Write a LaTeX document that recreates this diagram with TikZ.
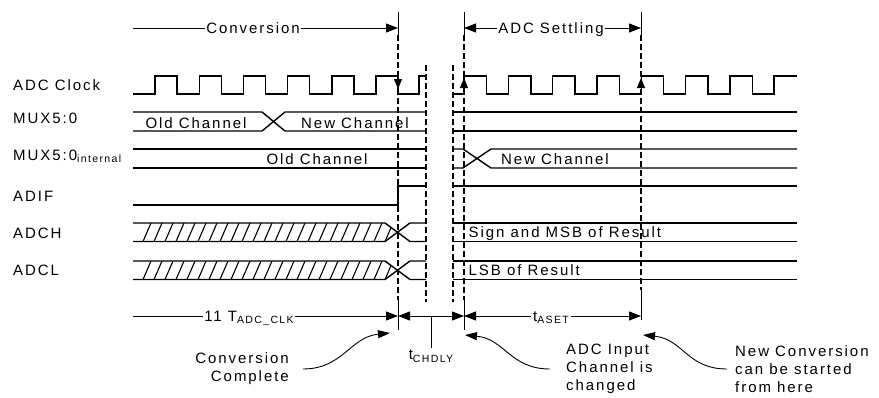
\documentclass[tikz,border=0pt]{standalone}
\usepackage{fontspec}
\setmainfont{Liberation Sans}[LetterSpace=13]
\usetikzlibrary{arrows.meta,positioning}
\newcommand{\lowsub}[1]{\raisebox{-2.5pt}{\fontsize{10.5}{10.5}\selectfont #1}}

\begin{document}
\begin{tikzpicture}[x=1pt,y=-1pt,>={Triangle[length=12pt,width=9pt]},
 every node/.style={font=\fontsize{15}{18}\selectfont,inner sep=0pt},
 sig/.style={line width=1.4pt},
 dim/.style={line width=1pt},
 tline/.style={line width=1.1pt,dash pattern=on 6pt off 3pt},
 hatch/.style={line width=1.1pt},
 onl/.style={text height=10.5pt,text depth=0pt,inner xsep=1.5pt},
 lbl/.style={anchor=base west},
 clkarr/.style={line width=1pt,-{Triangle[length=10pt,width=8pt]}},
 callout/.style={line width=0.9pt,-{Triangle[length=12pt,width=8pt]}}]
\useasboundingbox (0,0) rectangle (879,397);

% signal names
\node[lbl] (nclk) at (13,90) {ADC Clock};
\node[lbl] (nmux) at (13,123) {MUX5:0};
\node[lbl] (nmuxi) at (13,160) {MUX5:0\lowsub{internal}};
\node[lbl] (nadif) at (13,201) {ADIF};
\node[lbl] (nadch) at (13,238) {ADCH};
\node[lbl] (nadcl) at (13,275) {ADCL};

% clock, before and after the break
\draw[sig] (133,94) \foreach \k in {0,...,5}{ -- ({155+44.2*\k},94) -- ++(0,-18) -- ++(22,0) -- ++(0,18)} -- (419,94) -- (419,76) -- (426,76);
\draw[sig] (453,94) \foreach \k in {0,...,6}{ -- ({464+44.3*\k},94) -- ++(0,-18) -- ++(22.5,0) -- ++(0,18)} -- (774,94) -- (774,76) -- (797,76);
\draw[clkarr] (398,77) -- (398,89);
\draw[clkarr] (464,94) -- (464,78); \draw[clkarr] (641,94) -- (641,78);

% MUX5:0
\draw[sig] (133,112) -- (262,112) -- (285,131) -- (426,131) (133,131) -- (262,131) -- (285,112) -- (426,112);
\draw[sig] (453,112) -- (797,112) (453,131) -- (797,131);
\node[onl] (oldm) at (196,123) {Old Channel};
\node[onl] (newm) at (355,123) {New Channel};

% MUX5:0 internal
\draw[sig] (133,149) -- (426,149) (133,168) -- (426,168);
\draw[sig] (453,149) -- (463,149) -- (491,168) -- (797,168) (453,168) -- (463,168) -- (491,149) -- (797,149);
\node[onl] (oldi) at (317,159) {Old Channel};
\node[onl] (newi) at (555,159) {New Channel};

% ADIF
\draw[sig] (133,205) -- (398,205) -- (398,186) -- (426,186);
\draw[sig] (453,186) -- (797,186);

% ADCH, ADCL
\foreach \y in {223,261}{
  \draw[sig] (133,\y) -- (385,\y) -- (410,\y+18.5) -- (426,\y+18.5) (133,\y+18.5) -- (385,\y+18.5) -- (410,\y) -- (426,\y);
  \draw[sig] (453,\y) -- (797,\y) (453,\y+18.5) -- (797,\y+18.5);
  \begin{scope}
    \clip (133,\y) -- (385,\y) -- (397.5,\y+9.25) -- (385,\y+18.5) -- (133,\y+18.5) -- cycle;
    \foreach \x in {143,154,...,392} \draw[hatch] (\x,\y+18.5) -- ++(8,-18.5);
  \end{scope}}
\node[onl,anchor=west] (adch) at (467,232) {Sign and MSB of Result};
\node[onl,anchor=west] (adcl) at (467,270) {LSB of Result};

% time marks
\foreach \x in {398,464,641} \draw[dim] (\x,12) -- (\x,35);
\foreach \x in {398,464} {\draw[tline] (\x,35) -- (\x,300); \draw[dim] (\x,300) -- (\x,330);}
\draw[tline] (641,35) -- (641,290); \draw[dim] (641,290) -- (641,320);
\foreach \x in {426,453} \draw[tline] (\x,65) -- (\x,302);

% top dimensions
\coordinate (cA) at (133,28); \coordinate (cB) at (398,28);
\coordinate (sA) at (464,28); \coordinate (sB) at (641,28);
\node[onl] (conv) at (253,28) {Conversion};
\node[onl] (sett) at (551,28) {ADC Settling};
\draw[dim] (cA) -- (conv.west); \draw[dim,->] (conv.east) -- (cB);
\draw[dim,->] (sett.west) -- (sA); \draw[dim,->] (sett.east) -- (sB);

% bottom dimensions
\coordinate (kA) at (133,316); \coordinate (kB) at (398,316);
\coordinate (kC) at (464,316); \coordinate (kD) at (641,316);
\coordinate (hm) at (431,316);
\node[onl] (tclk) at (249,316) {11 T\lowsub{ADC\_CLK}};
\node[onl] (tas) at (551,316) {t\lowsub{ASET}};
\node[below=32pt of hm,inner ysep=2pt] (thd) {t\lowsub{CHDLY}};
\draw[dim] (kA) -- (tclk.west); \draw[dim,->] (tclk.east) -- (kB);
\draw[dim,<->] (kB) -- (kC);
\draw[dim,->] (tas.west) -- (kC); \draw[dim,->] (tas.east) -- (kD);
\draw[dim] (hm) -- (thd.north);

% callouts
\node[anchor=east,align=right] (cc) at (289,369) {Conversion\\Complete};
\node[anchor=west,align=left] (ai) at (566,369) {ADC Input\\Channel is\\changed};
\node[anchor=west,align=left] (nc) at (735,369) {New Conversion\\can be started\\from here};
\coordinate (ccT) at (390,333); \coordinate (aiT) at (465,335); \coordinate (ncT) at (643,335);
\draw[callout] ([xshift=14pt]cc.east) .. controls +(40,0) and +(-40,4) .. (ccT);
\draw[callout] ([xshift=-16pt]ai.west) .. controls +(-40,0) and +(40,4) .. (aiT);
\draw[callout] ([xshift=-8pt]nc.west) .. controls +(-40,0) and +(40,4) .. (ncT);
\end{tikzpicture}
\end{document}
